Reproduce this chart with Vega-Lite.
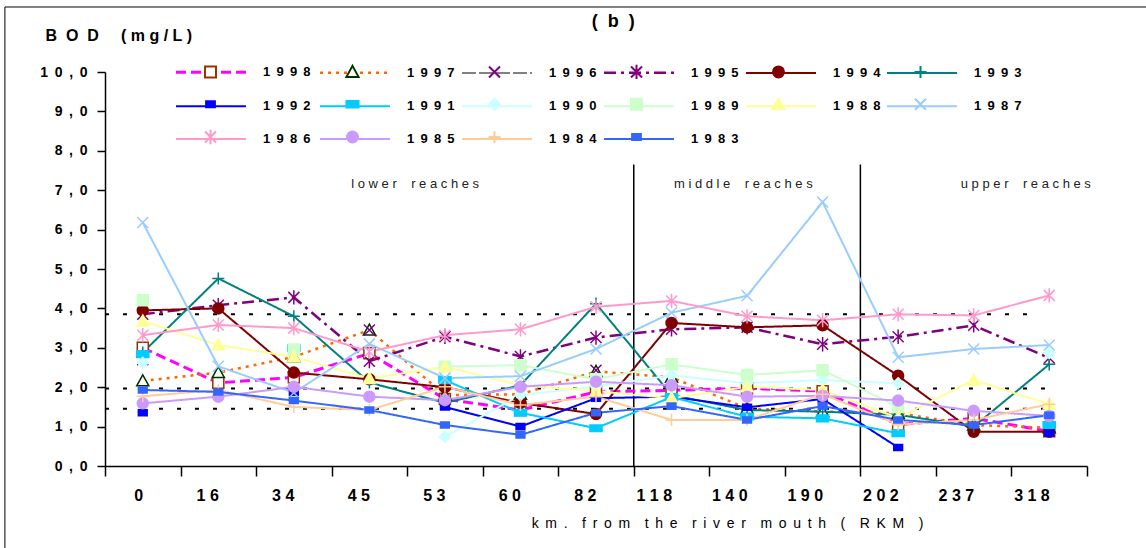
{
  "$schema": "https://vega.github.io/schema/vega-lite/v6.json",
  "width": 982,
  "height": 394,
  "autosize": {"type": "none"},
  "padding": {"left": 105, "top": 72, "right": 59, "bottom": 82},
  "background": "white",
  "config": {
    "view": {"stroke": null},
    "font": "Liberation Sans",
    "axis": {"domainColor": "black", "domainWidth": 1.5, "tickColor": "black", "tickWidth": 1.5, "labelColor": "black", "titleColor": "black", "labelFont": "Liberation Sans", "titleFont": "Liberation Sans", "labelOverlap": false, "labelFlush": false, "grid": false},
    "legend": {"labelFont": "Liberation Sans", "labelColor": "black"}
  },
  "data": {"values": [
    {"year":"1998","km":0,"bod":3.0},{"year":"1998","km":16,"bod":2.11},{"year":"1998","km":34,"bod":2.25},{"year":"1998","km":45,"bod":2.86},{"year":"1998","km":53,"bod":1.7},{"year":"1998","km":60,"bod":1.42},{"year":"1998","km":82,"bod":1.88},{"year":"1998","km":118,"bod":1.92},{"year":"1998","km":140,"bod":1.97},{"year":"1998","km":190,"bod":1.9},{"year":"1998","km":202,"bod":1.05},{"year":"1998","km":237,"bod":1.21},{"year":"1998","km":318,"bod":0.88},
    {"year":"1997","km":0,"bod":2.16},{"year":"1997","km":16,"bod":2.37},{"year":"1997","km":34,"bod":2.77},{"year":"1997","km":45,"bod":3.45},{"year":"1997","km":53,"bod":1.8},{"year":"1997","km":60,"bod":1.82},{"year":"1997","km":82,"bod":2.4},{"year":"1997","km":118,"bod":2.25},{"year":"1997","km":140,"bod":1.46},{"year":"1997","km":190,"bod":1.38},{"year":"1997","km":202,"bod":1.34},{"year":"1997","km":237,"bod":1.04},{"year":"1997","km":318,"bod":0.97},
    {"year":"1996","km":0,"bod":2.7},{"year":"1996","km":16,"bod":null},{"year":"1996","km":34,"bod":null},{"year":"1996","km":45,"bod":3.45},{"year":"1996","km":53,"bod":null},{"year":"1996","km":60,"bod":null},{"year":"1996","km":82,"bod":2.43},{"year":"1996","km":118,"bod":null},{"year":"1996","km":140,"bod":null},{"year":"1996","km":190,"bod":null},{"year":"1996","km":202,"bod":null},{"year":"1996","km":237,"bod":null},{"year":"1996","km":318,"bod":null},
    {"year":"1995","km":0,"bod":3.85},{"year":"1995","km":16,"bod":4.08},{"year":"1995","km":34,"bod":4.28},{"year":"1995","km":45,"bod":2.66},{"year":"1995","km":53,"bod":3.28},{"year":"1995","km":60,"bod":2.78},{"year":"1995","km":82,"bod":3.26},{"year":"1995","km":118,"bod":3.47},{"year":"1995","km":140,"bod":3.52},{"year":"1995","km":190,"bod":3.09},{"year":"1995","km":202,"bod":3.28},{"year":"1995","km":237,"bod":3.57},{"year":"1995","km":318,"bod":2.74},
    {"year":"1994","km":0,"bod":3.95},{"year":"1994","km":16,"bod":4.0},{"year":"1994","km":34,"bod":2.37},{"year":"1994","km":45,"bod":2.2},{"year":"1994","km":53,"bod":2.0},{"year":"1994","km":60,"bod":1.6},{"year":"1994","km":82,"bod":1.32},{"year":"1994","km":118,"bod":3.63},{"year":"1994","km":140,"bod":3.52},{"year":"1994","km":190,"bod":3.57},{"year":"1994","km":202,"bod":2.29},{"year":"1994","km":237,"bod":0.87},{"year":"1994","km":318,"bod":0.87},
    {"year":"1993","km":0,"bod":2.88},{"year":"1993","km":16,"bod":4.76},{"year":"1993","km":34,"bod":3.8},{"year":"1993","km":45,"bod":2.12},{"year":"1993","km":53,"bod":1.6},{"year":"1993","km":60,"bod":2.05},{"year":"1993","km":82,"bod":4.12},{"year":"1993","km":118,"bod":1.8},{"year":"1993","km":140,"bod":1.42},{"year":"1993","km":190,"bod":1.38},{"year":"1993","km":202,"bod":1.3},{"year":"1993","km":237,"bod":1.0},{"year":"1993","km":318,"bod":2.58},
    {"year":"1992","km":0,"bod":1.35},{"year":"1992","km":16,"bod":null},{"year":"1992","km":34,"bod":1.87},{"year":"1992","km":45,"bod":null},{"year":"1992","km":53,"bod":1.5},{"year":"1992","km":60,"bod":1.0},{"year":"1992","km":82,"bod":1.72},{"year":"1992","km":118,"bod":1.76},{"year":"1992","km":140,"bod":1.49},{"year":"1992","km":190,"bod":1.7},{"year":"1992","km":202,"bod":0.47},{"year":"1992","km":237,"bod":null},{"year":"1992","km":318,"bod":0.83},
    {"year":"1991","km":0,"bod":2.84},{"year":"1991","km":16,"bod":null},{"year":"1991","km":34,"bod":2.99},{"year":"1991","km":45,"bod":null},{"year":"1991","km":53,"bod":2.18},{"year":"1991","km":60,"bod":1.35},{"year":"1991","km":82,"bod":0.96},{"year":"1991","km":118,"bod":1.75},{"year":"1991","km":140,"bod":1.25},{"year":"1991","km":190,"bod":1.21},{"year":"1991","km":202,"bod":0.83},{"year":"1991","km":237,"bod":null},{"year":"1991","km":318,"bod":1.04},
    {"year":"1990","km":0,"bod":2.62},{"year":"1990","km":16,"bod":null},{"year":"1990","km":34,"bod":null},{"year":"1990","km":45,"bod":null},{"year":"1990","km":53,"bod":0.74},{"year":"1990","km":60,"bod":1.8},{"year":"1990","km":82,"bod":2.02},{"year":"1990","km":118,"bod":2.3},{"year":"1990","km":140,"bod":2.1},{"year":"1990","km":190,"bod":2.18},{"year":"1990","km":202,"bod":2.1},{"year":"1990","km":237,"bod":null},{"year":"1990","km":318,"bod":2.87},
    {"year":"1989","km":0,"bod":4.21},{"year":"1989","km":16,"bod":null},{"year":"1989","km":34,"bod":2.96},{"year":"1989","km":45,"bod":null},{"year":"1989","km":53,"bod":2.52},{"year":"1989","km":60,"bod":2.56},{"year":"1989","km":82,"bod":2.2},{"year":"1989","km":118,"bod":2.58},{"year":"1989","km":140,"bod":2.31},{"year":"1989","km":190,"bod":2.43},{"year":"1989","km":202,"bod":1.5},{"year":"1989","km":237,"bod":null},{"year":"1989","km":318,"bod":null},
    {"year":"1988","km":0,"bod":3.68},{"year":"1988","km":16,"bod":3.07},{"year":"1988","km":34,"bod":2.77},{"year":"1988","km":45,"bod":2.22},{"year":"1988","km":53,"bod":2.52},{"year":"1988","km":60,"bod":2.05},{"year":"1988","km":82,"bod":1.9},{"year":"1988","km":118,"bod":1.72},{"year":"1988","km":140,"bod":2.01},{"year":"1988","km":190,"bod":1.93},{"year":"1988","km":202,"bod":1.22},{"year":"1988","km":237,"bod":2.18},{"year":"1988","km":318,"bod":1.57},
    {"year":"1987","km":0,"bod":6.18},{"year":"1987","km":16,"bod":2.53},{"year":"1987","km":34,"bod":1.86},{"year":"1987","km":45,"bod":3.1},{"year":"1987","km":53,"bod":2.23},{"year":"1987","km":60,"bod":2.28},{"year":"1987","km":82,"bod":2.97},{"year":"1987","km":118,"bod":3.89},{"year":"1987","km":140,"bod":4.32},{"year":"1987","km":190,"bod":6.7},{"year":"1987","km":202,"bod":2.76},{"year":"1987","km":237,"bod":2.97},{"year":"1987","km":318,"bod":3.07},
    {"year":"1986","km":0,"bod":3.32},{"year":"1986","km":16,"bod":3.58},{"year":"1986","km":34,"bod":3.5},{"year":"1986","km":45,"bod":2.9},{"year":"1986","km":53,"bod":3.32},{"year":"1986","km":60,"bod":3.47},{"year":"1986","km":82,"bod":4.04},{"year":"1986","km":118,"bod":4.19},{"year":"1986","km":140,"bod":3.8},{"year":"1986","km":190,"bod":3.7},{"year":"1986","km":202,"bod":3.85},{"year":"1986","km":237,"bod":3.82},{"year":"1986","km":318,"bod":4.33},
    {"year":"1985","km":0,"bod":1.59},{"year":"1985","km":16,"bod":1.76},{"year":"1985","km":34,"bod":2.01},{"year":"1985","km":45,"bod":1.76},{"year":"1985","km":53,"bod":1.67},{"year":"1985","km":60,"bod":2.01},{"year":"1985","km":82,"bod":2.14},{"year":"1985","km":118,"bod":2.05},{"year":"1985","km":140,"bod":1.76},{"year":"1985","km":190,"bod":1.78},{"year":"1985","km":202,"bod":1.66},{"year":"1985","km":237,"bod":1.4},{"year":"1985","km":318,"bod":1.27},
    {"year":"1984","km":0,"bod":1.77},{"year":"1984","km":16,"bod":1.93},{"year":"1984","km":34,"bod":1.5},{"year":"1984","km":45,"bod":1.42},{"year":"1984","km":53,"bod":2.01},{"year":"1984","km":60,"bod":1.55},{"year":"1984","km":82,"bod":1.76},{"year":"1984","km":118,"bod":1.17},{"year":"1984","km":140,"bod":1.17},{"year":"1984","km":190,"bod":1.82},{"year":"1984","km":202,"bod":1.05},{"year":"1984","km":237,"bod":1.17},{"year":"1984","km":318,"bod":1.57},
    {"year":"1983","km":0,"bod":1.93},{"year":"1983","km":16,"bod":1.88},{"year":"1983","km":34,"bod":1.66},{"year":"1983","km":45,"bod":1.42},{"year":"1983","km":53,"bod":1.04},{"year":"1983","km":60,"bod":0.79},{"year":"1983","km":82,"bod":1.35},{"year":"1983","km":118,"bod":1.52},{"year":"1983","km":140,"bod":1.17},{"year":"1983","km":190,"bod":1.52},{"year":"1983","km":202,"bod":1.17},{"year":"1983","km":237,"bod":1.04},{"year":"1983","km":318,"bod":1.29}
  ]},
  "layer": [
    {
      "data": {"values": [{"edge": "top"}]},
      "mark": {"type": "rule", "color": "black", "strokeWidth": 1},
      "encoding": {
        "x": {"datum": 0, "type": "ordinal", "bandPosition": -1.325},
        "x2": {"datum": 318, "bandPosition": 2},
        "y": {"datum": 11.65}
      }
    },
    {
      "data": {"values": [{"edge": "left"}]},
      "mark": {"type": "rule", "color": "black", "strokeWidth": 1},
      "encoding": {
        "x": {"datum": 0, "type": "ordinal", "bandPosition": -1.325},
        "y": {"datum": 11.65},
        "y2": {"datum": -3}
      }
    },
    {
      "data": {"values": [{"label": "(\u00a0\u00a0b\u00a0\u00a0)"}]},
      "mark": {"type": "text", "fontSize": 18, "fontWeight": "bold", "color": "black", "font": "Liberation Sans", "align": "center", "baseline": "middle"},
      "encoding": {"x": {"datum": 82, "type": "ordinal", "bandPosition": 0.73}, "y": {"datum": 11.27}, "text": {"field": "label"}}
    },
    {
      "data": {"values": [{"level": 3.85}]},
      "mark": {"type": "rule", "color": "black", "strokeWidth": 2, "strokeDash": [4, 14]},
      "encoding": {
        "x": {"datum": 0, "type": "ordinal", "bandPosition": 0},
        "x2": {"datum": 318, "bandPosition": 0.39},
        "y": {"field": "level", "type": "quantitative"}
      }
    },
    {
      "data": {"values": [{"level": 1.97}, {"level": 1.45}]},
      "mark": {"type": "rule", "color": "black", "strokeWidth": 2, "strokeDash": [4, 14]},
      "encoding": {
        "x": {"datum": 0, "type": "ordinal", "bandPosition": 0},
        "x2": {"datum": 318, "bandPosition": 0.61},
        "y": {"field": "level", "type": "quantitative"}
      }
    },
    {
      "data": {"values": [{"boundary": 118}, {"boundary": 202}]},
      "mark": {"type": "rule", "color": "black", "strokeWidth": 1.5},
      "encoding": {
        "x": {"field": "boundary", "type": "ordinal", "bandPosition": 0},
        "y": {"datum": 7.65},
        "y2": {"datum": 0}
      }
    },
    {
      "data": {"values": [{"label": "l\u00a0o\u00a0w\u00a0e\u00a0r\u00a0\u00a0\u00a0\u00a0r\u00a0e\u00a0a\u00a0c\u00a0h\u00a0e\u00a0s"}]},
      "mark": {"type": "text", "fontSize": 13, "color": "#222222", "font": "Liberation Sans", "align": "center", "baseline": "middle"},
      "encoding": {"x": {"datum": 53, "type": "ordinal", "bandPosition": 0.106}, "y": {"datum": 7.17}, "text": {"field": "label"}}
    },
    {
      "data": {"values": [{"label": "m\u00a0i\u00a0d\u00a0d\u00a0l\u00a0e\u00a0\u00a0\u00a0\u00a0r\u00a0e\u00a0a\u00a0c\u00a0h\u00a0e\u00a0s"}]},
      "mark": {"type": "text", "fontSize": 13, "color": "#222222", "font": "Liberation Sans", "align": "center", "baseline": "middle"},
      "encoding": {"x": {"datum": 140, "type": "ordinal", "bandPosition": 0.45}, "y": {"datum": 7.17}, "text": {"field": "label"}}
    },
    {
      "data": {"values": [{"label": "u\u00a0p\u00a0p\u00a0e\u00a0r\u00a0\u00a0\u00a0\u00a0r\u00a0e\u00a0a\u00a0c\u00a0h\u00a0e\u00a0s"}]},
      "mark": {"type": "text", "fontSize": 13, "color": "#222222", "font": "Liberation Sans", "align": "center", "baseline": "middle"},
      "encoding": {"x": {"datum": 318, "type": "ordinal", "bandPosition": 0.19}, "y": {"datum": 7.17}, "text": {"field": "label"}}
    },
    {
      "mark": {"type": "line", "invalid": "break-paths-show-domains", "strokeCap": "butt"},
      "encoding": {
        "x": {"field": "km", "type": "ordinal",
          "scale": {"type": "band", "paddingInner": 0, "paddingOuter": 0, "domain": [0,16,34,45,53,60,82,118,140,190,202,237,318]},
          "axis": {"title": "k\u00a0\u2009m\u00a0\u2009.\u00a0\u00a0\u00a0\u2009f\u00a0\u2009r\u00a0\u2009o\u00a0\u2009m\u00a0\u00a0\u00a0\u2009t\u00a0\u2009h\u00a0\u2009e\u00a0\u00a0\u00a0\u2009r\u00a0\u2009i\u00a0\u2009v\u00a0\u2009e\u00a0\u2009r\u00a0\u00a0\u00a0\u2009m\u00a0\u2009o\u00a0\u2009u\u00a0\u2009t\u00a0\u2009h\u00a0\u00a0\u00a0\u2009(\u00a0\u00a0\u00a0\u2009R\u00a0\u2009K\u00a0\u2009M\u00a0\u00a0\u00a0\u2009)",
            "titleFontSize": 14, "titleFontWeight": "normal", "titleX": 622, "titleY": 57, "titleAlign": "center", "titleBaseline": "middle",
            "labelAngle": 0, "labelFontSize": 16, "labelFontWeight": "bold", "labelPadding": 19, "tickBand": "extent", "tickSize": 10,
            "labelExpr": "join(split(datum.label,''),'\u00a0')"}},
        "y": {"field": "bod", "type": "quantitative",
          "scale": {"domain": [0, 10], "nice": false, "zero": true},
          "axis": {"title": "B\u00a0\u00a0O\u00a0\u00a0D\u00a0\u00a0\u00a0\u00a0\u00a0(\u00a0m\u00a0g\u00a0/\u00a0L\u00a0)",
            "titleAngle": 0, "titleX": -60, "titleY": -37, "titleAlign": "left", "titleBaseline": "middle", "titleFontSize": 16, "titleFontWeight": "bold",
            "values": [0,0.5,1,1.5,2,2.5,3,3.5,4,4.5,5,5.5,6,6.5,7,7.5,8,8.5,9,9.5,10], "tickCount": 20,
            "labelExpr": "join(split(replace(format(datum.value,'.1f'),'.',','),''),'\u00a0\u2009')",
            "labelFontSize": 14, "labelFontWeight": "bold", "tickSize": 8, "labelPadding": 10}},
        "color": {"field": "year", "type": "nominal",
          "scale": {"domain": ["1998","1997","1996","1995","1994","1993","1992","1991","1990","1989","1988","1987","1986","1985","1984","1983"],
            "range": ["#FF00FF","#FF6600","#808080","#800080","#800000","#008080","#0000FF","#00CCFF","#CCFFFF","#CCFFCC","#FFFF99","#99CCFF","#FF99CC","#CC99FF","#FFCC99","#3366FF"]},
          "legend": {"orient": "none", "direction": "horizontal", "legendX": 71, "legendY": -7, "columns": 6, "title": null, "padding": 0,
            "symbolType": "M-6.36,0H6.36M17.8,0ZM0,-1.75ZM0,1.75Z", "symbolSize": 121, "symbolOffset": 28, "labelOffset": 45, "symbolStrokeWidth": 2,
            "labelFontSize": 13, "labelFontWeight": "bold", "columnPadding": 0, "rowPadding": 3.75,
            "labelExpr": "join(split(datum.label,''),'\u00a0\u2009')"}},
        "strokeDash": {"field": "year", "type": "nominal",
          "scale": {"domain": ["1998","1997","1996","1995","1994","1993","1992","1991","1990","1989","1988","1987","1986","1985","1984","1983"],
            "range": [[10,5],[3,5],[14,3],[12,5,3,5],[1,0],[1,0],[1,0],[1,0],[1,0],[1,0],[1,0],[1,0],[1,0],[1,0],[1,0],[1,0]]}},
        "strokeWidth": {"field": "year", "type": "nominal", "legend": null,
          "scale": {"type": "ordinal", "domain": ["1998","1997","1996","1995","1994","1993","1992","1991","1990","1989","1988","1987","1986","1985","1984","1983"],
            "range": [3,2.5,2,2.5,2,2,2,2,2,2,2,2,2,2,2,2]}}
      }
    },
    {
      "mark": {"type": "point", "size": 121, "opacity": 1, "strokeWidth": 1.5},
      "encoding": {
        "x": {"field": "km", "type": "ordinal"},
        "y": {"field": "bod", "type": "quantitative"},
        "shape": {"field": "year", "type": "nominal",
          "scale": {"domain": ["1998","1997","1996","1995","1994","1993","1992","1991","1990","1989","1988","1987","1986","1985","1984","1983"],
            "range": [
              "M-1,-1H1V1H-1ZM-6.36,0ZM17.8,0ZM0,-1.75ZM0,1.75Z",
              "M0,-1.1L1.1,0.9H-1.1ZM-6.36,0ZM17.8,0ZM0,-1.75ZM0,1.75Z",
              "M-1,-1L1,1M-1,1L1,-1M-6.36,0ZM17.8,0ZM0,-1.75ZM0,1.75Z",
              "M-1,-1L1,1M-1,1L1,-1M0,-1.3V1.3M-6.36,0ZM17.8,0ZM0,-1.75ZM0,1.75Z",
              "M1,0A1,1,0,1,1,-1,0A1,1,0,1,1,1,0ZM-6.36,0ZM17.8,0ZM0,-1.75ZM0,1.75Z",
              "M-1.1,0H1.1M0,-1.1V1.1M-6.36,0ZM17.8,0ZM0,-1.75ZM0,1.75Z",
              "M-0.8,-0.55H0.8V0.55H-0.8ZM-6.36,0ZM17.8,0ZM0,-1.75ZM0,1.75Z",
              "M-1.1,-0.6H1.1V0.6H-1.1ZM-6.36,0ZM17.8,0ZM0,-1.75ZM0,1.75Z",
              "M0,-1L1,0L0,1L-1,0ZM-6.36,0ZM17.8,0ZM0,-1.75ZM0,1.75Z",
              "M-1,-1H1V1H-1ZM-6.36,0ZM17.8,0ZM0,-1.75ZM0,1.75Z",
              "M0,-1.1L1.1,0.9H-1.1ZM-6.36,0ZM17.8,0ZM0,-1.75ZM0,1.75Z",
              "M-1,-1L1,1M-1,1L1,-1M-6.36,0ZM17.8,0ZM0,-1.75ZM0,1.75Z",
              "M-1,-1L1,1M-1,1L1,-1M0,-1.3V1.3M-6.36,0ZM17.8,0ZM0,-1.75ZM0,1.75Z",
              "M1,0A1,1,0,1,1,-1,0A1,1,0,1,1,1,0ZM-6.36,0ZM17.8,0ZM0,-1.75ZM0,1.75Z",
              "M-1.1,0H1.1M0,-1.1V1.1M-6.36,0ZM17.8,0ZM0,-1.75ZM0,1.75Z",
              "M-0.8,-0.55H0.8V0.55H-0.8ZM-6.36,0ZM17.8,0ZM0,-1.75ZM0,1.75Z"]},
          "legend": {"orient": "none", "direction": "horizontal", "legendX": 71, "legendY": -7, "columns": 6, "title": null, "padding": 0,
            "symbolSize": 121, "symbolOffset": 28, "labelOffset": 45, "symbolStrokeWidth": 2,
            "labelFontSize": 13, "labelFontWeight": "bold", "columnPadding": 0, "rowPadding": 3.75,
            "labelExpr": "''"}},
        "fill": {"field": "year", "type": "nominal",
          "scale": {"domain": ["1998","1997","1996","1995","1994","1993","1992","1991","1990","1989","1988","1987","1986","1985","1984","1983"],
            "range": ["#FFFFFF","#FFFFFF","transparent","transparent","#800000","transparent","#0000FF","#00CCFF","#CCFFFF","#CCFFCC","#FFFF99","transparent","transparent","#CC99FF","transparent","#3366FF"]}},
        "stroke": {"field": "year", "type": "nominal",
          "scale": {"domain": ["1998","1997","1996","1995","1994","1993","1992","1991","1990","1989","1988","1987","1986","1985","1984","1983"],
            "range": ["#993300","#003300","#800080","#800080","#800000","#008080","#0000FF","#00CCFF","#CCFFFF","#CCFFCC","#FFFF99","#99CCFF","#FF99CC","#CC99FF","#FFCC99","#3366FF"]}}
      }
    }
  ],
  "resolve": {"legend": {"color": "independent", "strokeDash": "independent", "strokeWidth": "independent", "shape": "independent", "fill": "independent", "stroke": "independent"}}
}
